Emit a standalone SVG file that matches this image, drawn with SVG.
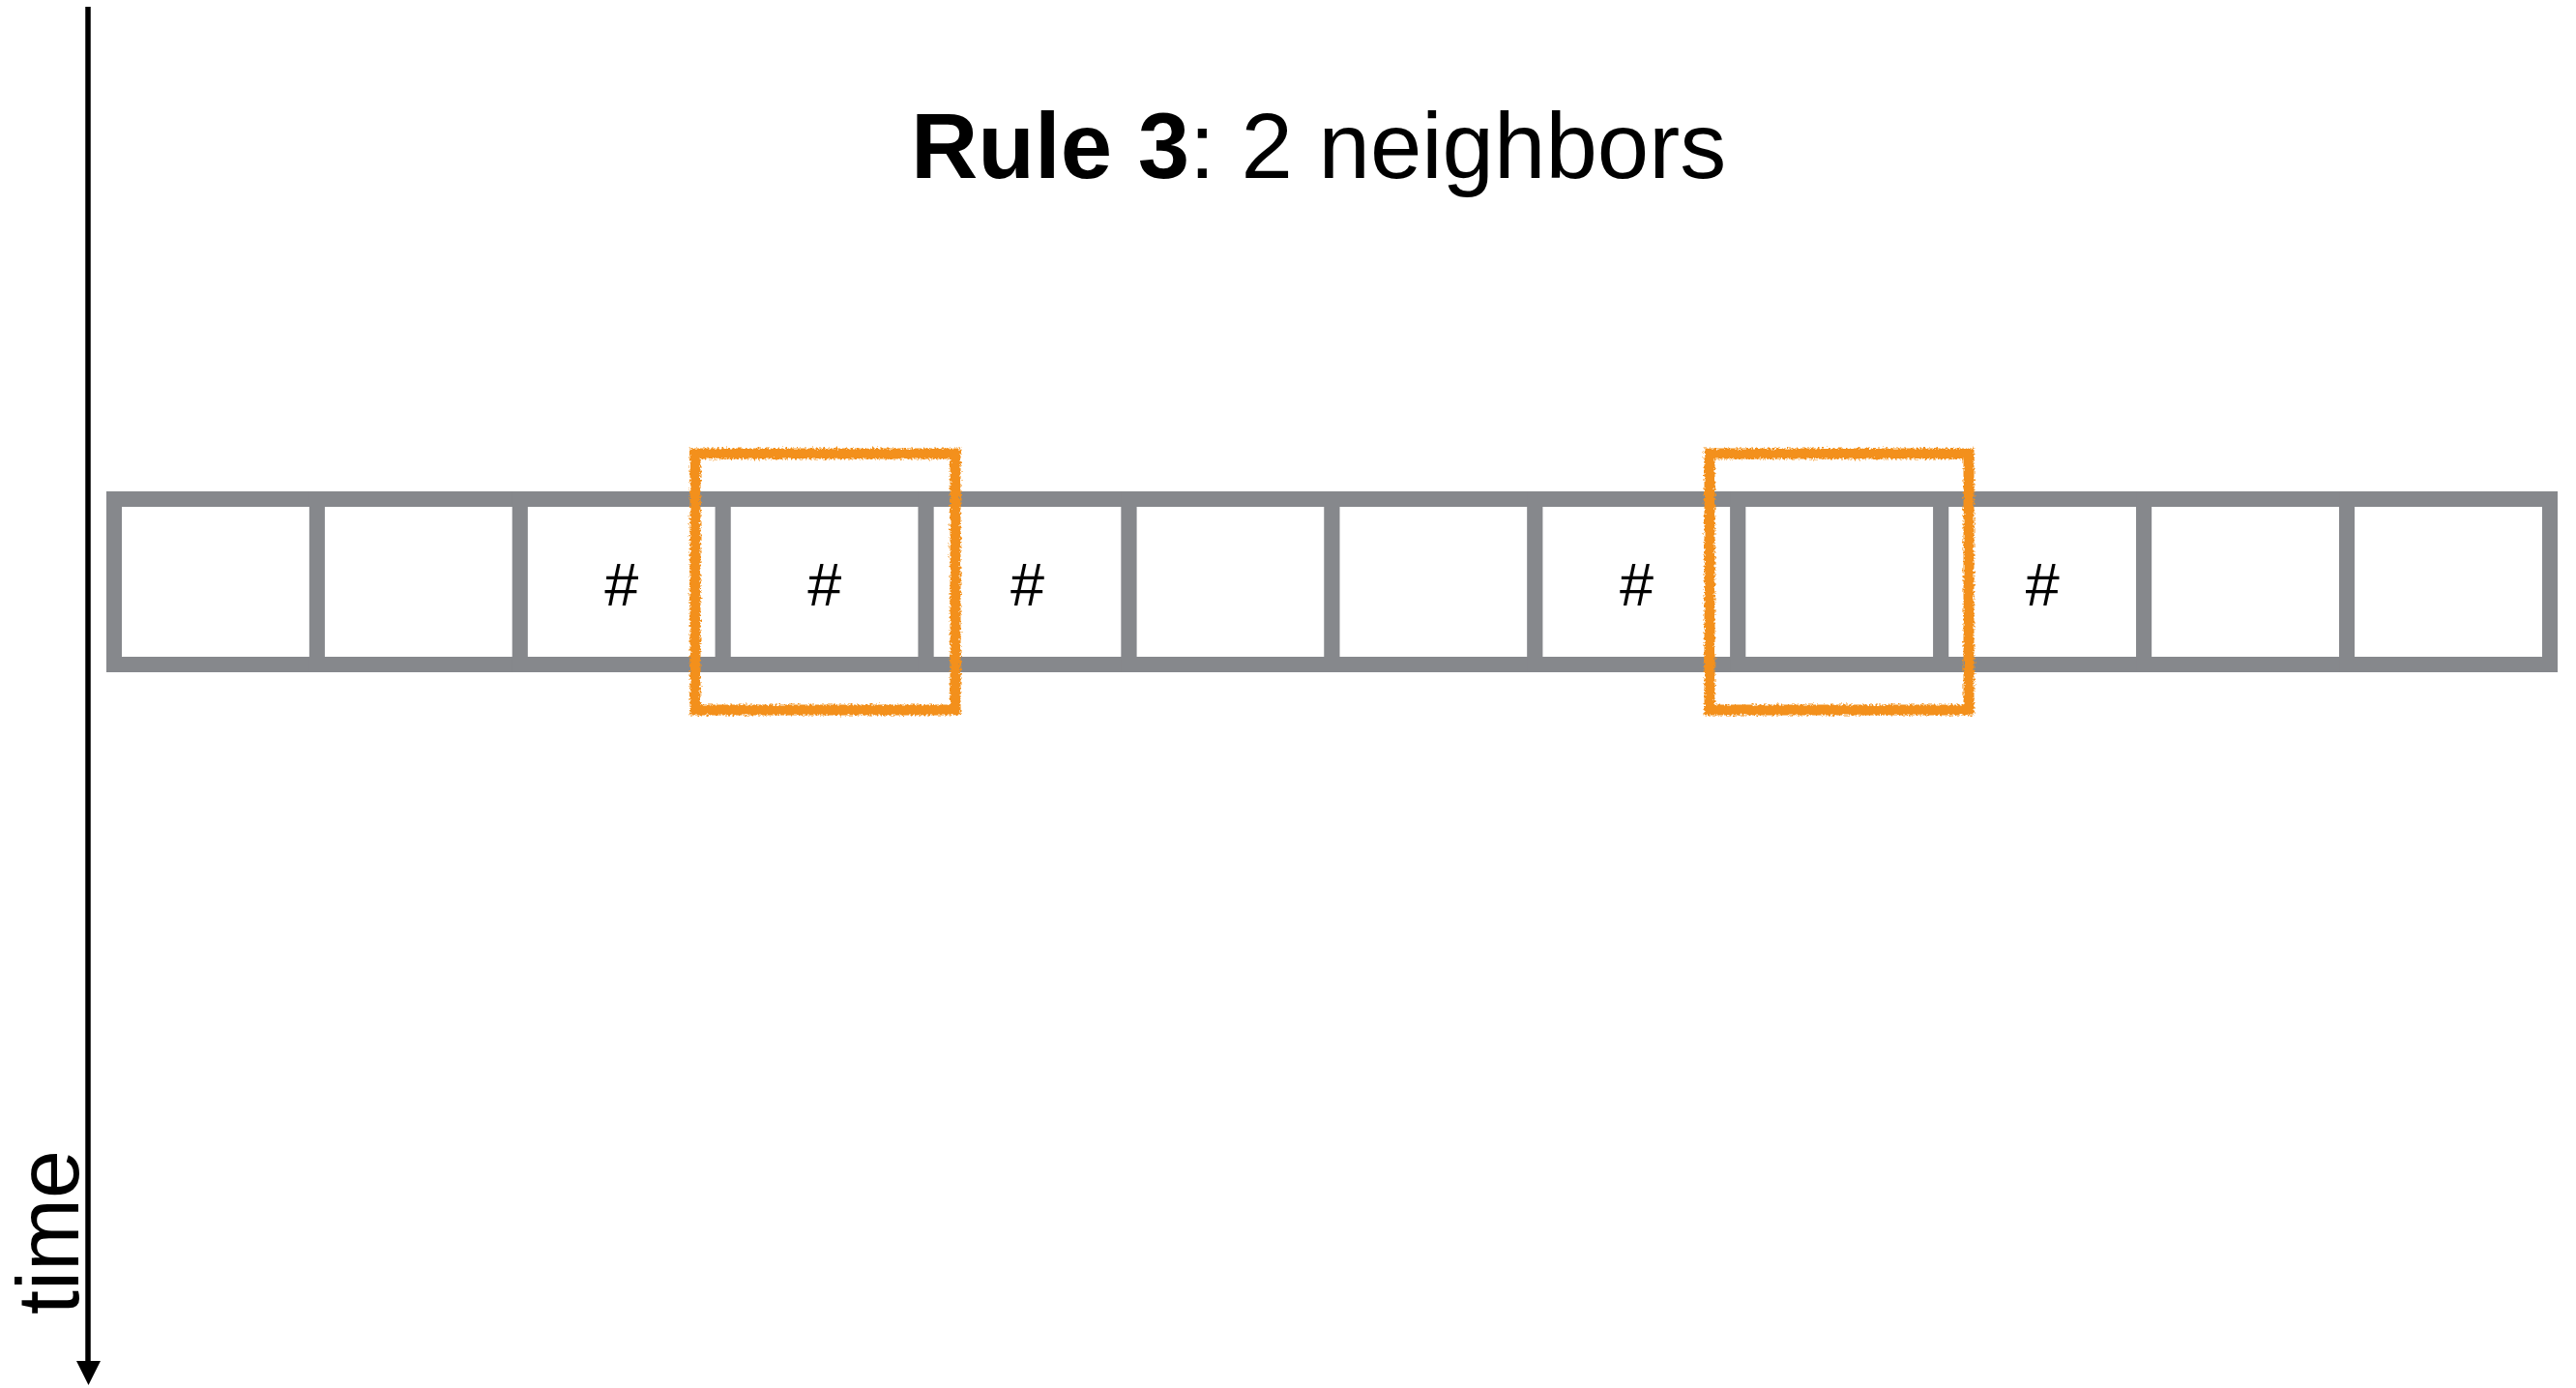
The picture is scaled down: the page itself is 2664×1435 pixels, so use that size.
<svg xmlns="http://www.w3.org/2000/svg" width="2664" height="1435" viewBox="0 0 2664 1435">
  <style>
    .cell { fill: #ffffff; stroke: #86888c; stroke-width: 16; }
    .hash { font-family: "Liberation Sans", Arial, sans-serif; font-size: 63px; fill: #000000; text-anchor: middle; }
    .title { font-family: "Liberation Sans", Arial, sans-serif; font-size: 96px; fill: #000000; }
    .hl { fill: none; stroke: #f3901c; stroke-width: 11; filter: url(#rough); }
    .axis-label { font-family: "Liberation Sans", Arial, sans-serif; font-size: 90px; fill: #000000; text-anchor: middle; }
  </style>
  <defs>
    <filter id="rough" x="-10%" y="-10%" width="120%" height="120%">
      <feTurbulence type="fractalNoise" baseFrequency="0.45" numOctaves="2" seed="4" result="noise"/>
      <feDisplacementMap in="SourceGraphic" in2="noise" scale="6" xChannelSelector="R" yChannelSelector="G"/>
    </filter>
  </defs>
  <rect x="0" y="0" width="2664" height="1435" fill="#ffffff"/>

  <g id="title">
    <text class="title" x="942" y="184"><tspan font-weight="bold">Rule 3</tspan>: 2 neighbors</text>
  </g>

  <g id="connectors">
    <g id="time-axis">
      <line x1="91" y1="7" x2="91" y2="1410" stroke="#000000" stroke-width="5.5"/>
      <polygon points="79,1407 104,1407 91.5,1432" fill="#000000"/>
    </g>
  </g>

  <g id="time-label">
    <text class="axis-label" transform="translate(81,1274) rotate(-90)">time</text>
  </g>

  <g id="cells">
    <g id="cell-0"><rect class="cell" x="118" y="516" width="209.92" height="171"/></g>
    <g id="cell-1"><rect class="cell" x="327.92" y="516" width="209.92" height="171"/></g>
    <g id="cell-2"><rect class="cell" x="537.83" y="516" width="209.92" height="171"/><text class="hash" x="642.8" y="626">#</text></g>
    <g id="cell-3"><rect class="cell" x="747.75" y="516" width="209.92" height="171"/><text class="hash" x="852.7" y="626">#</text></g>
    <g id="cell-4"><rect class="cell" x="957.67" y="516" width="209.92" height="171"/><text class="hash" x="1062.6" y="626">#</text></g>
    <g id="cell-5"><rect class="cell" x="1167.58" y="516" width="209.92" height="171"/></g>
    <g id="cell-6"><rect class="cell" x="1377.5" y="516" width="209.92" height="171"/></g>
    <g id="cell-7"><rect class="cell" x="1587.42" y="516" width="209.92" height="171"/><text class="hash" x="1692.4" y="626">#</text></g>
    <g id="cell-8"><rect class="cell" x="1797.33" y="516" width="209.92" height="171"/></g>
    <g id="cell-9"><rect class="cell" x="2007.25" y="516" width="209.92" height="171"/><text class="hash" x="2112.2" y="626">#</text></g>
    <g id="cell-10"><rect class="cell" x="2217.17" y="516" width="209.92" height="171"/></g>
    <g id="cell-11"><rect class="cell" x="2427.08" y="516" width="209.92" height="171"/></g>
  </g>

  <g id="highlight-1">
    <rect class="hl" x="719" y="469" width="269" height="265"/>
  </g>
  <g id="highlight-2">
    <rect class="hl" x="1768" y="469" width="268" height="265"/>
  </g>
</svg>
